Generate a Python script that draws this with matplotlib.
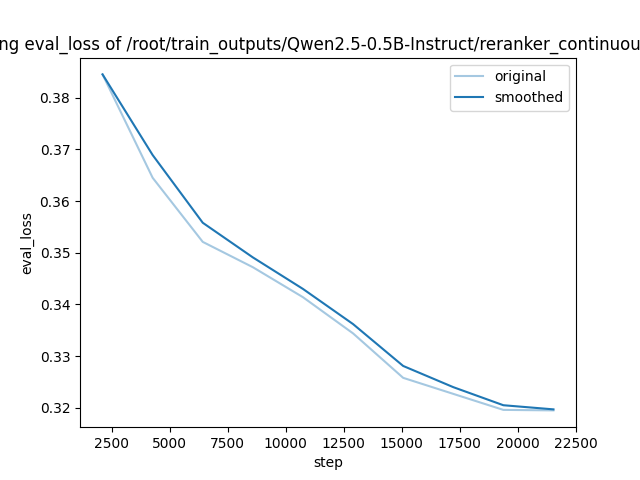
import matplotlib
matplotlib.use("Agg")
import matplotlib.pyplot as plt

steps = [2100, 4260, 6420, 8580, 10740, 12900, 15060, 17220, 19380, 21540]
original = [0.3845, 0.3645, 0.3521, 0.3472, 0.3414, 0.3344, 0.3258, 0.3227, 0.3196, 0.3195]
smoothed = [0.3845, 0.3689, 0.3558, 0.3491, 0.3430, 0.3362, 0.3281, 0.3240, 0.3205, 0.3197]

key = "eval_loss"
path = "/root/train_outputs/Qwen2.5-0.5B-Instruct/reranker_continuous_lr1e5"

plt.figure(figsize=(6.4, 4.8), dpi=100)
plt.plot(steps, original, color="#1f77b4", alpha=0.4, label="original")
plt.plot(steps, smoothed, color="#1f77b4", label="smoothed")
plt.legend()
plt.title(f"training {key} of {path}")
plt.xlabel("step")
plt.ylabel(key)
plt.savefig("out.png", format="png", dpi=100)
